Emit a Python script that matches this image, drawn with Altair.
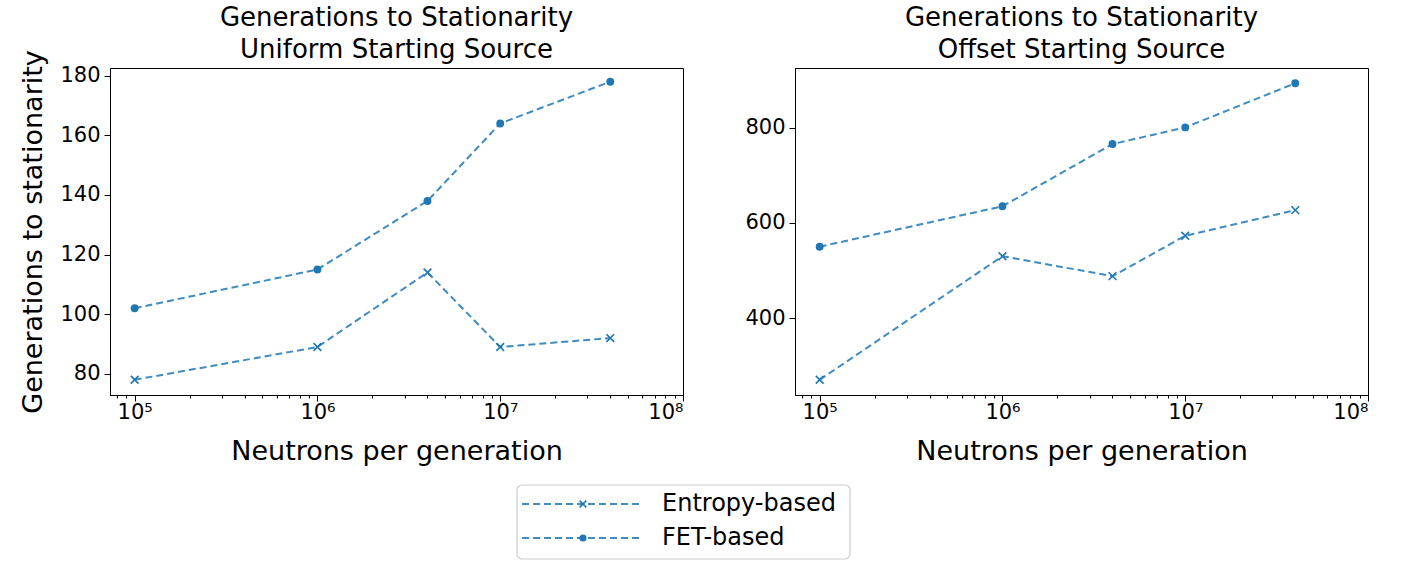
import altair as alt
import pandas as pd

# ---- data ----
n_neutrons = [1e5, 1e6, 4e6, 1e7, 4e7]
uniform_entropy = [78, 89, 114, 89, 92]
uniform_fet = [102, 115, 138, 164, 178]
offset_entropy = [270, 530, 488, 573, 627]
offset_fet = [550, 635, 766, 801, 894]
series_names = ["Entropy-based", "FET-based"]

major_ticks = [1e5, 1e6, 1e7, 1e8]
minor_ticks = [k * 10 ** e for e in range(4, 8) for k in range(2, 10) if 73300 <= k * 10 ** e <= 1e8]
x_domain = [73300, 1e8]

BLUE = "#1f77b4"
FONT = "DejaVu Sans"
X_SHAPE = "M-1,-1L1,1M-1,1L1,-1"
SUP = "['\u2070','\u00b9','\u00b2','\u00b3','\u2074','\u2075','\u2076','\u2077','\u2078','\u2079']"


def panel(entropy, fet, title_lines, y_domain, y_ticks, y_title, title_offset):
    df = pd.DataFrame({
        "n": n_neutrons * 2,
        "value": entropy + fet,
        "series": [series_names[0]] * len(n_neutrons) + [series_names[1]] * len(n_neutrons),
    })
    xscale = alt.Scale(type="log", domain=x_domain, nice=False)
    yscale = alt.Scale(domain=y_domain, nice=False, zero=False)
    yaxis_kw = dict(values=y_ticks, tickSize=6, labelPadding=4)
    if y_title:
        yaxis_kw["title"] = y_title
        yaxis_kw["titlePadding"] = 12
    else:
        yaxis_kw["title"] = ""
    y = alt.Y("value:Q", scale=yscale, axis=alt.Axis(**yaxis_kw))

    x_major = alt.X(
        "n:Q", scale=xscale,
        axis=alt.Axis(values=major_ticks, tickSize=6, orient="bottom",
                      labelExpr="'10' + " + SUP + "[round(log(datum.value)/LN10)]",
                      title="Neutrons per generation", titlePadding=16, labelPadding=0),
    )
    x_minor = alt.X(
        "n:Q", scale=xscale,
        axis=alt.Axis(values=minor_ticks, tickSize=3, orient="bottom", labels=False,
                      domain=False, title=""),
    )
    base = alt.Chart(df)
    lines = base.mark_line(strokeDash=[7, 4], strokeWidth=2, color=BLUE, opacity=0.85).encode(
        x=x_major, y=y, detail="series:N"
    )
    crosses = base.transform_filter(alt.datum.series == series_names[0]).mark_point(
        shape=X_SHAPE, size=60, filled=False, strokeWidth=1.6, color=BLUE, opacity=1
    ).encode(x=x_minor, y=y)
    dots = base.transform_filter(alt.datum.series == series_names[1]).mark_circle(
        size=62, color=BLUE, opacity=1
    ).encode(x=alt.X("n:Q", scale=xscale, axis=None), y=y)

    return alt.layer(lines, crosses, dots).resolve_axis(x="independent").properties(
        width=573, height=327,
        title=alt.TitleParams(text=title_lines, fontSize=26, fontWeight="normal", font=FONT,
                              color="black", anchor="middle", lineHeight=32, offset=title_offset),
    )


left = panel(uniform_entropy, uniform_fet,
             ["Generations to Stationarity", "Uniform Starting Source"],
             [72.9, 182.6], [80, 100, 120, 140, 160, 180], "Generations to stationarity", -13)
right = panel(offset_entropy, offset_fet,
              ["Generations to Stationarity", "Offset Starting Source"],
              [238, 926], [400, 600, 800], "", 5)

# ---- legend panel (positions relative to the left plot area's left edge) ----
BX0, BX1 = 407, 740
ROWS = [20, 54]
layers = [
    alt.Chart(pd.DataFrame({"a": [0]})).mark_rect(
        fillOpacity=0, stroke="#cccccc", strokeWidth=1.2, cornerRadius=5
    ).encode(x=alt.value(BX0), x2=alt.value(BX1), y=alt.value(1), y2=alt.value(75))
]
leg_df = pd.DataFrame({"series": series_names})
for i, name in enumerate(series_names):
    sub = alt.Chart(leg_df).transform_filter(alt.datum.series == name)
    layers.append(sub.mark_rule(strokeDash=[7, 4], strokeWidth=2, color=BLUE, opacity=0.85).encode(
        x=alt.value(BX0 + 5), x2=alt.value(BX0 + 125), y=alt.value(ROWS[i])))
    if i == 0:
        layers.append(sub.mark_point(shape=X_SHAPE, size=45, filled=False, strokeWidth=1.6,
                                     color=BLUE, opacity=1).encode(x=alt.value(BX0 + 66), y=alt.value(ROWS[i])))
    else:
        layers.append(sub.mark_circle(size=50, color=BLUE, opacity=1).encode(
            x=alt.value(BX0 + 66), y=alt.value(ROWS[i])))
    layers.append(sub.mark_text(align="left", baseline="middle", fontSize=24, font=FONT,
                                color="black").encode(x=alt.value(BX0 + 145), y=alt.value(ROWS[i]),
                                                      text="series:N"))
legend = alt.layer(*layers).properties(width=1250, height=76, view=alt.ViewBackground(strokeOpacity=0))

chart = alt.vconcat(
    alt.hconcat(left, right, spacing=60),
    legend,
    spacing=19,
).configure(font=FONT).configure_view(
    stroke="black", strokeWidth=1
).configure_axis(
    labelFontSize=21, titleFontSize=27, labelColor="black", titleColor="black",
    domainColor="black", tickColor="black", grid=False, labelFont=FONT, titleFont=FONT,
    titleFontWeight="normal", domainWidth=1,
).configure_concat(spacing=0).properties(padding={"left": 19, "top": 4, "right": 5, "bottom": 0})

chart.save("out.html", embed_options={"renderer": "svg", "actions": False})
